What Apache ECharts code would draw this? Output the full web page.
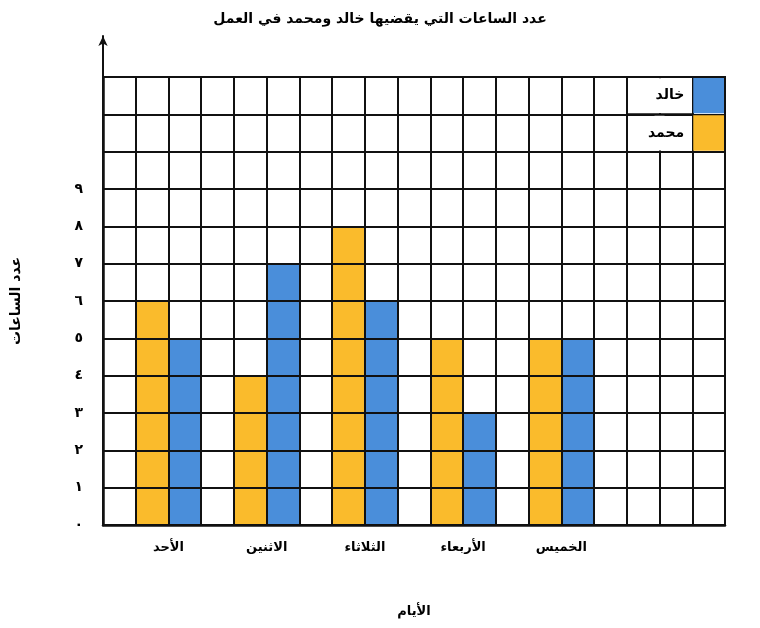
<!DOCTYPE html>
<html>
<head>
<meta charset="utf-8">
<script src="https://cdn.jsdelivr.net/npm/echarts@6/dist/echarts.min.js"></script>
<style>
html,body{margin:0;padding:0;background:#fff;}
#chart{width:760px;height:628px;}
</style>
</head>
<body>
<div id="chart"></div>
<script>
// ---- data ----
const titleText = 'عدد الساعات التي يقضيها خالد ومحمد في العمل';
const days = ['الأحد', 'الاثنين', 'الثلاثاء', 'الأربعاء', 'الخميس'];
const mohammed = [6, 4, 8, 5, 5];   // orange
const khalid = [5, 7, 6, 3, 5];     // blue
const yTickLabels = ['٠', '١', '٢', '٣', '٤', '٥', '٦', '٧', '٨', '٩', '', '', ''];
const seriesNames = ['خالد', 'محمد'];
const xName = 'الأيام';
const yName = 'عدد الساعات';

// ---- layout ----
const COLS = 19, ROWS = 12;
const G = { left: 103, right: 35, top: 77, bottom: 103 };
const W = 760, H = 628;
const colW = (W - G.left - G.right) / COLS;
const rowH = (H - G.top - G.bottom) / ROWS;

// table built from data: each day occupies 3 columns (empty, محمد, خالد)
const cols = [];
for (let i = 0; i < COLS; i++) cols.push('c' + i);
const mData = cols.map(() => '-');
const kData = cols.map(() => '-');
const boundaryLabels = [];
for (let i = 0; i <= COLS; i++) boundaryLabels.push('');
days.forEach((d, i) => {
  mData[3 * i + 1] = mohammed[i];
  kData[3 * i + 2] = khalid[i];
  boundaryLabels[3 * i + 2] = d;
});

const FONT = 'DejaVu Sans';
const LINE = '#111';
const ORANGE = '#FABB2C';
const BLUE = '#4A8EDA';

const coverX = G.left + colW * 17;
const chart = echarts.init(document.getElementById('chart'));
chart.setOption({
  backgroundColor: '#fff',
  animation: false,
  title: {
    text: titleText, left: 'center', top: 7,
    textStyle: { fontFamily: FONT, fontWeight: 'bold', fontSize: 14, color: '#000' }
  },
  legend: {
    data: [seriesNames[0], seriesNames[1]],
    orient: 'vertical', right: G.right + 1, top: G.top + 1,
    itemWidth: colW - 2, itemHeight: rowH - 2, itemGap: 2, padding: 0,
    align: 'right', icon: 'rect', z: 7, selectedMode: false,
    textStyle: { fontFamily: FONT, fontWeight: 'bold', fontSize: 14, color: '#000', padding: [0, 4, 0, 0] }
  },
  grid: [
    { left: G.left, right: G.right, top: G.top, bottom: G.bottom, show: true, borderColor: LINE, borderWidth: 2, z: 5 },
    { left: G.left, right: G.right, top: 36, bottom: G.bottom }
  ],
  xAxis: [
    {
      type: 'category', data: cols, gridIndex: 0, z: 5,
      axisLine: { show: true, lineStyle: { color: LINE, width: 2.5 } },
      axisTick: { show: false }, axisLabel: { show: false },
      splitLine: { show: true, interval: 0, lineStyle: { color: LINE, width: 2 } }
    },
    {
      type: 'category', data: boundaryLabels, gridIndex: 0, boundaryGap: false, position: 'bottom',
      axisLine: { show: false }, axisTick: { show: false }, splitLine: { show: false },
      name: xName, nameLocation: 'middle', nameGap: 80,
      nameTextStyle: { fontFamily: FONT, fontWeight: 'bold', fontSize: 13, color: '#000' },
      axisLabel: { interval: 0, margin: 16, fontFamily: FONT, fontWeight: 'bold', fontSize: 13, color: '#000' }
    },
    { type: 'category', data: cols, gridIndex: 1, show: false }
  ],
  yAxis: [
    {
      type: 'value', min: 0, max: ROWS, interval: 1, gridIndex: 0, z: 5,
      axisLine: { show: true, lineStyle: { color: LINE, width: 2.5 } },
      axisTick: { show: false },
      axisLabel: {
        margin: 20, fontFamily: FONT, fontWeight: 'bold', fontSize: 14, color: '#000',
        formatter: v => yTickLabels[v] || ''
      },
      splitLine: { show: true, lineStyle: { color: LINE, width: 2 } },
      name: yName, nameLocation: 'middle', nameGap: 80, nameRotate: 90,
      nameTextStyle: { fontFamily: FONT, fontWeight: 'bold', fontSize: 14, color: '#000' }
    },
    {
      type: 'value', min: 0, max: 1, gridIndex: 1, z: 5,
      axisLine: { show: true, symbol: ['none', 'arrow'], symbolSize: [7, 10], lineStyle: { color: LINE, width: 2 } },
      axisTick: { show: false }, axisLabel: { show: false }, splitLine: { show: false }
    }
  ],
  graphic: [
    { type: 'rect', z: 6, shape: { x: coverX - 5, y: G.top + 1.2, width: 10, height: rowH - 2.4 }, style: { fill: '#fff' } },
    { type: 'rect', z: 6, shape: { x: coverX - 5, y: G.top + rowH + 1.2, width: 10, height: rowH - 2.4 }, style: { fill: '#fff' } },
    { type: 'line', z: 8, shape: { x1: coverX - colW, y1: G.top + rowH, x2: coverX + colW, y2: G.top + rowH }, style: { stroke: LINE, lineWidth: 2.2 } }
  ],
  series: [
    {
      name: seriesNames[0], type: 'bar', xAxisIndex: 0, yAxisIndex: 0, stack: 'all',
      barWidth: '100%', data: kData, itemStyle: { color: BLUE }, z: 2
    },
    {
      name: seriesNames[1], type: 'bar', xAxisIndex: 0, yAxisIndex: 0, stack: 'all',
      barWidth: '100%', data: mData, itemStyle: { color: ORANGE }, z: 2
    }
  ]
});
</script>
</body>
</html>
